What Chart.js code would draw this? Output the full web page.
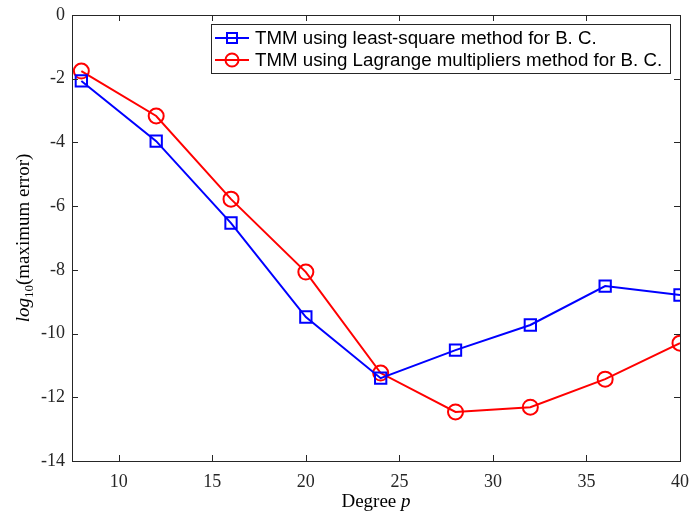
<!DOCTYPE html>
<html>
<head>
  <title>Maximum error vs degree</title>
  <script src="https://cdn.jsdelivr.net/npm/chart.js"></script>
  <style>
    body { margin: 0; background: #fff; }
    #wrap { width: 692px; height: 517px; }
  </style>
</head>
<body>
  <div id="wrap"><canvas id="errChart"></canvas></div>

  <script>
    const degrees = [8, 12, 16, 20, 24, 28, 32, 36, 40];
    const leastSquare = [-2.07, -3.96, -6.53, -9.48, -11.40, -10.52, -9.73, -8.51, -8.79];
    const lagrange = [-1.76, -3.17, -5.78, -8.07, -11.24, -12.46, -12.31, -11.43, -10.30];
    const xTicks = [10, 15, 20, 25, 30, 35, 40];
    const yTicks = [0, -2, -4, -6, -8, -10, -12, -14];
    const seriesNames = [
      'TMM using least-square method for B. C.',
      'TMM using Lagrange multipliers method for B. C.'
    ];

    const serif = '"Liberation Serif", "Times New Roman", serif';
    const sans = '"Liberation Sans", Arial, sans-serif';

    // box, inward ticks, axis titles, legend in the corner
    const matlabLook = {
      id: 'matlabLook',
      afterDraw(chart) {
        const ctx = chart.ctx;
        const a = chart.chartArea;
        const xs = chart.scales.x, ys = chart.scales.y;
        ctx.save();
        ctx.strokeStyle = '#262626';
        ctx.lineWidth = 1;
        ctx.strokeRect(a.left + 0.5, a.top + 0.5, a.right - a.left, a.bottom - a.top);
        ctx.beginPath();
        xTicks.forEach(v => {
          const px = Math.round(xs.getPixelForValue(v)) + 0.5;
          ctx.moveTo(px, a.bottom); ctx.lineTo(px, a.bottom - 6);
          ctx.moveTo(px, a.top); ctx.lineTo(px, a.top + 6);
        });
        yTicks.forEach(v => {
          const py = Math.round(ys.getPixelForValue(v)) + 0.5;
          ctx.moveTo(a.left, py); ctx.lineTo(a.left + 6, py);
          ctx.moveTo(a.right, py); ctx.lineTo(a.right - 6, py);
        });
        ctx.stroke();

        ctx.fillStyle = '#000';
        ctx.textBaseline = 'alphabetic';

        // x axis title: Degree p
        ctx.font = '19px ' + serif;
        const d1 = 'Degree ';
        const dw1 = ctx.measureText(d1).width;
        ctx.font = 'italic 19px ' + serif;
        const dw2 = ctx.measureText('p').width;
        const dx = (a.left + a.right) / 2 - (dw1 + dw2) / 2;
        ctx.font = '19px ' + serif;
        ctx.fillText(d1, dx, 507);
        ctx.font = 'italic 19px ' + serif;
        ctx.fillText('p', dx + dw1, 507);

        // y axis title: log_10(maximum error)
        ctx.save();
        ctx.translate(23, (a.top + a.bottom) / 2);
        ctx.rotate(-Math.PI / 2);
        const p1 = 'log', p2 = '10', p3 = '(maximum error)';
        ctx.font = 'italic 19px ' + serif;
        const w1 = ctx.measureText(p1).width;
        ctx.font = '13px ' + serif;
        const w2 = ctx.measureText(p2).width;
        ctx.font = '19px ' + serif;
        const w3 = ctx.measureText(p3).width;
        const x0 = -(w1 + w2 + w3) / 2;
        ctx.font = 'italic 19px ' + serif;
        ctx.fillText(p1, x0, 6);
        ctx.font = '13px ' + serif;
        ctx.fillText(p2, x0 + w1, 10);
        ctx.font = '19px ' + serif;
        ctx.fillText(p3, x0 + w1 + w2, 6);
        ctx.restore();
        ctx.restore();

        // legend
        ctx.save();
        const lx = 211, ly = 24, lw = 459, lh = 49;
        ctx.fillStyle = '#fff';
        ctx.fillRect(lx, ly, lw, lh);
        ctx.strokeStyle = '#262626';
        ctx.lineWidth = 1;
        ctx.strokeRect(lx + 0.5, ly + 0.5, lw, lh);
        ctx.font = '18.7px ' + sans;
        ctx.textBaseline = 'middle';
        chart.data.datasets.forEach((ds, i) => {
          const cy = ly + 14 + i * 22;
          ctx.strokeStyle = ds.borderColor;
          ctx.lineWidth = 2;
          ctx.beginPath();
          ctx.moveTo(lx + 4, cy); ctx.lineTo(lx + 38, cy);
          ctx.stroke();
          ctx.beginPath();
          if (i === 0) {
            ctx.rect(lx + 16, cy - 5, 10, 10);
          } else {
            ctx.arc(lx + 21, cy, 6.5, 0, Math.PI * 2);
          }
          ctx.stroke();
          ctx.fillStyle = '#000';
          ctx.fillText(ds.label, lx + 44, cy + 1);
        });
        ctx.restore();
      }
    };

    const ctx = document.getElementById('errChart').getContext('2d');
    new Chart(ctx, {
      type: 'line',
      data: {
        datasets: [{
          label: seriesNames[0],
          data: degrees.map((d, i) => ({ x: d, y: leastSquare[i] })),
          borderColor: '#0000ff',
          backgroundColor: 'rgba(0,0,0,0)',
          borderWidth: 2,
          pointStyle: 'rect',
          pointRadius: 8,
          pointBorderWidth: 2,
          pointBorderColor: '#0000ff',
          pointBackgroundColor: 'rgba(0,0,0,0)'
        }, {
          label: seriesNames[1],
          data: degrees.map((d, i) => ({ x: d, y: lagrange[i] })),
          borderColor: '#ff0000',
          backgroundColor: 'rgba(0,0,0,0)',
          borderWidth: 2,
          pointStyle: 'circle',
          pointRadius: 7.5,
          pointBorderWidth: 2,
          pointBorderColor: '#ff0000',
          pointBackgroundColor: 'rgba(0,0,0,0)'
        }]
      },
      options: {
        responsive: true,
        maintainAspectRatio: false,
        animation: false,
        layout: { padding: { top: 15, right: 12, left: 0, bottom: 0 } },
        plugins: { legend: { display: false }, tooltip: { enabled: false } },
        scales: {
          x: {
            type: 'linear',
            min: 7.5,
            max: 40,
            afterBuildTicks: s => { s.ticks = xTicks.map(v => ({ value: v })); },
            afterFit: s => { s.height = 56; s.paddingLeft = 0; s.paddingRight = 0; },
            grid: { display: false, drawTicks: false },
            border: { display: false },
            ticks: { color: '#262626', font: { family: serif, size: 18 }, padding: 10, maxRotation: 0 }
          },
          y: {
            type: 'linear',
            min: -14,
            max: 0,
            afterBuildTicks: s => { s.ticks = yTicks.map(v => ({ value: v })); },
            afterFit: s => { s.width = 72; s.paddingTop = 0; s.paddingBottom = 0; },
            grid: { display: false, drawTicks: false },
            border: { display: false },
            ticks: { color: '#262626', font: { family: serif, size: 18 }, padding: 7 }
          }
        }
      },
      plugins: [matlabLook]
    });
  </script>
</body>
</html>
